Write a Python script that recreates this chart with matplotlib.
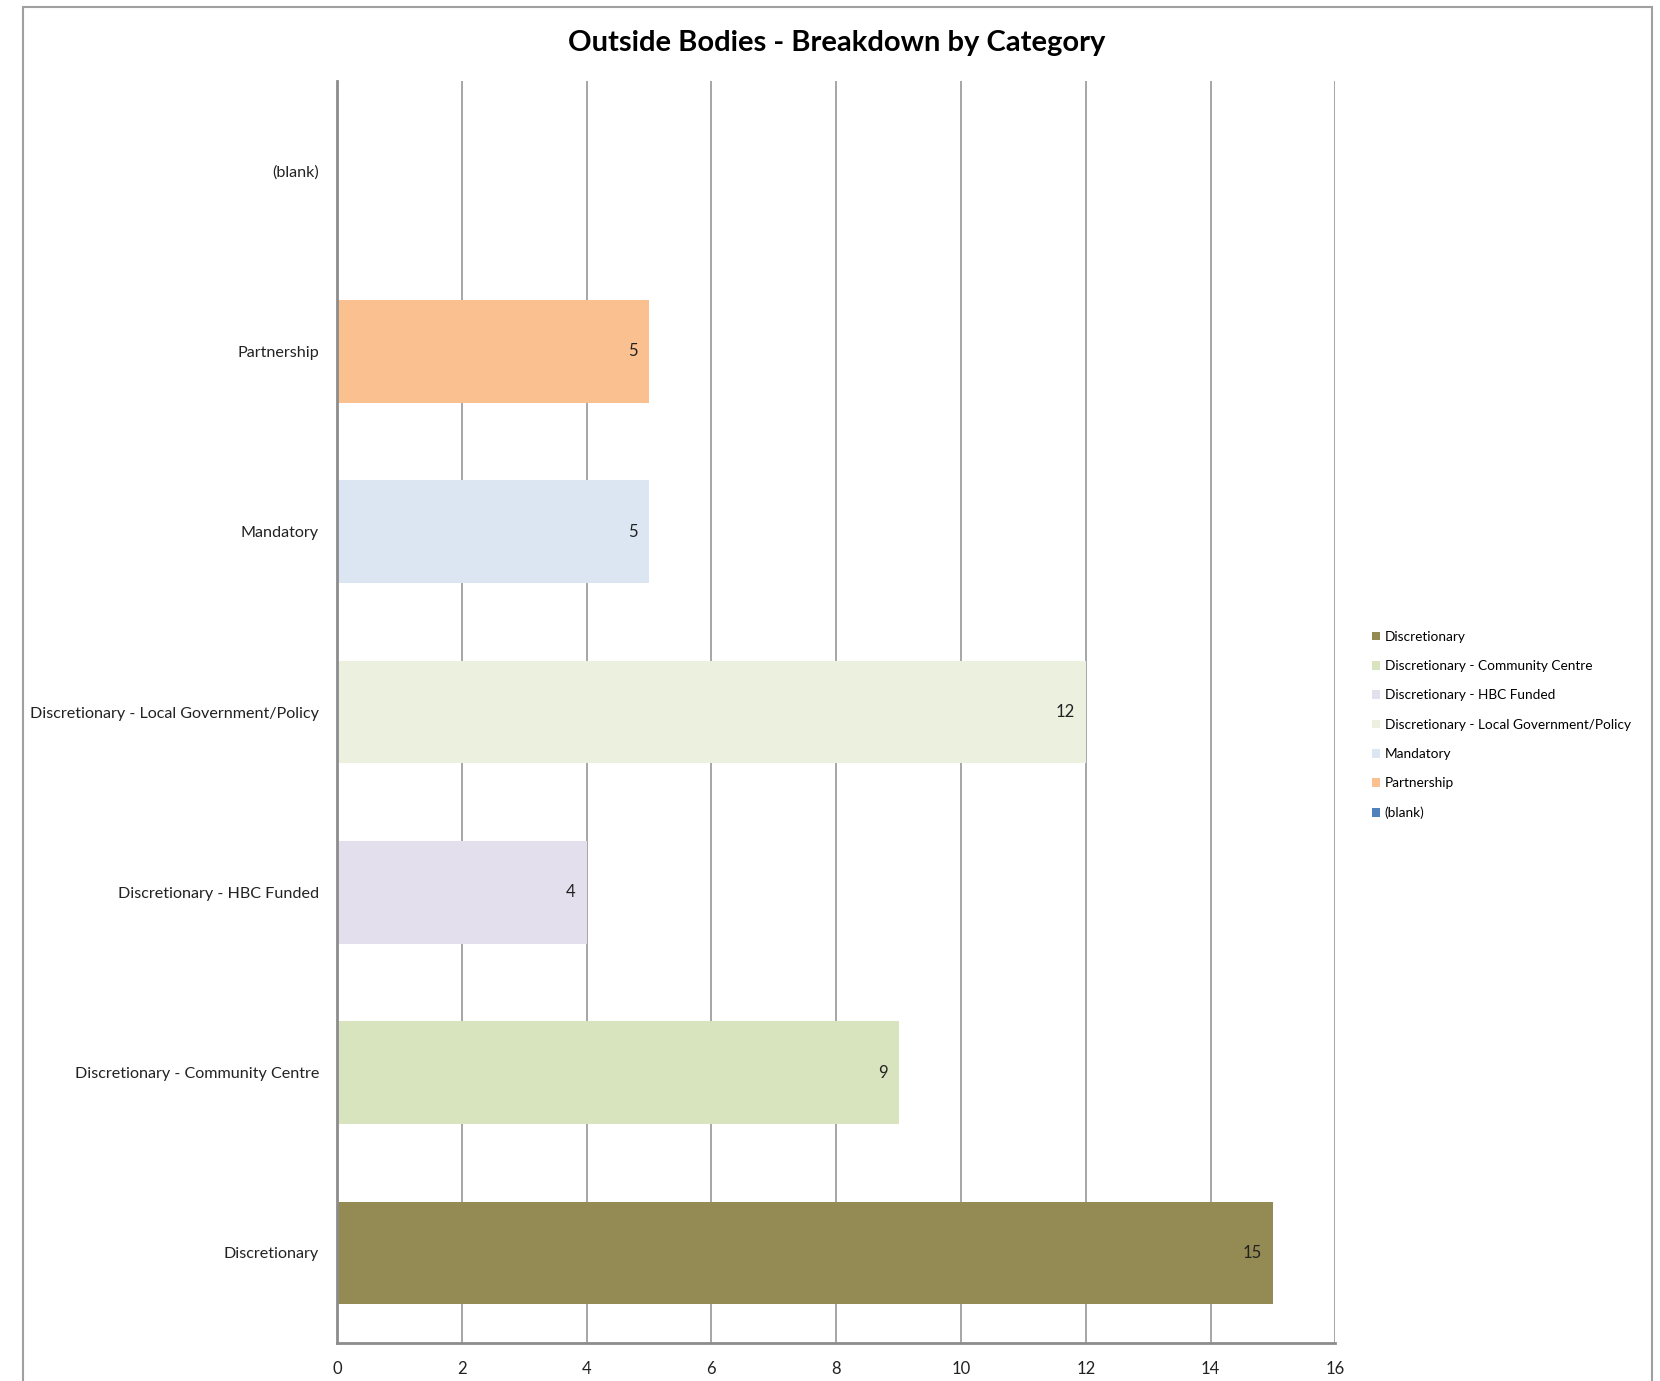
import matplotlib
matplotlib.use("Agg")
import matplotlib.pyplot as plt
from matplotlib.patches import Rectangle, Patch

categories = ["Discretionary", "Discretionary - Community Centre", "Discretionary - HBC Funded",
              "Discretionary - Local Government/Policy", "Mandatory", "Partnership", "(blank)"]
values = [15, 9, 4, 12, 5, 5, None]
colors = ["#948A54", "#D7E4BD", "#E4DFEC", "#EBF1DE", "#DCE6F2", "#FAC090", "#4F81BD"]
xticks = [0, 2, 4, 6, 8, 10, 12, 14, 16]

plt.rcParams['font.family'] = ['Lato', 'DejaVu Sans']

fig = plt.figure(figsize=(16.6, 13.81), dpi=100)
ax = fig.add_axes([0.2030, 0.0275, 0.6015, 0.9138])

for i, (c, v, col) in enumerate(zip(categories, values, colors)):
    if v is None:
        continue
    ax.barh(i, v, height=0.57, color=col, zorder=3)
    ax.text(v - 0.18, i, str(v), ha='right', va='center', fontsize=12, color='#222222', zorder=4)

ax.set_xlim(0, 16)
ax.set_ylim(-0.5, len(categories) - 0.5)
ax.set_xticks(xticks)
ax.set_xticklabels([str(t) for t in xticks], fontsize=12)
ax.set_yticks(range(len(categories)))
ax.set_yticklabels(categories, fontsize=11.6)
ax.tick_params(axis='both', length=0, colors='#222222')
ax.tick_params(axis='x', pad=13)
ax.tick_params(axis='y', pad=13)
ax.xaxis.grid(True, color='#A6A6A6', linewidth=1.4, zorder=0)
ax.set_axisbelow(True)
for s in ['top', 'right']:
    ax.spines[s].set_visible(False)
for s in ['left', 'bottom']:
    ax.spines[s].set_color('#8C8C8C')
    ax.spines[s].set_linewidth(2)
    ax.spines[s].set_zorder(5)

handles = [Patch(facecolor=col, edgecolor='none') for col in colors]
fig.legend(handles, categories, loc='center left', bbox_to_anchor=(0.819, 0.475),
           frameon=False, fontsize=9.8, handlelength=0.6, handleheight=0.6,
           handletextpad=0.35, labelspacing=1.27)

fig.text(0.504, 0.969, "Outside Bodies - Breakdown by Category", ha='center', va='center',
         fontsize=21, fontweight='bold', family=['Lato', 'DejaVu Sans'])

fig.patches.append(Rectangle((23 / 1660, -0.05), (1652 - 23) / 1660, 1.05 - 7 / 1381,
                             transform=fig.transFigure, fill=False, edgecolor='#A0A0A0',
                             linewidth=1.5, zorder=0))

fig.savefig("out.png", dpi=100)
